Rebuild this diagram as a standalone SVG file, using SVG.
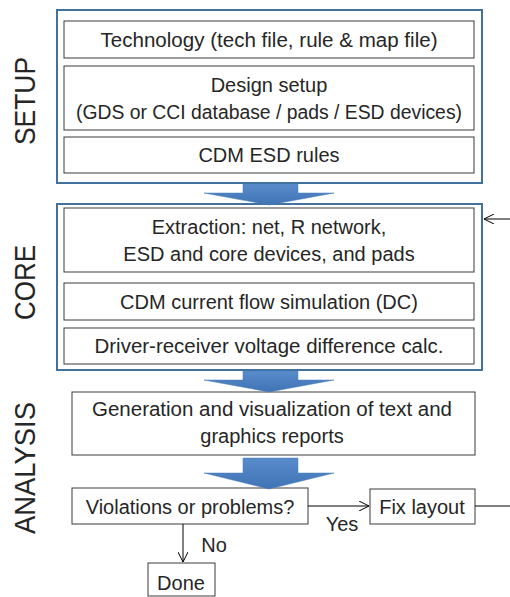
<svg xmlns="http://www.w3.org/2000/svg" width="510" height="597" viewBox="0 0 510 597">
<defs>
<linearGradient id="ag" x1="0" y1="0" x2="0" y2="1">
<stop offset="0" stop-color="#5a8ccc"/>
<stop offset="1" stop-color="#3f73b4"/>
</linearGradient>
<marker id="ah" viewBox="0 0 10 10" refX="10" refY="5" markerWidth="10" markerHeight="10" markerUnits="userSpaceOnUse" orient="auto">
<path d="M0,0 L10,5 L0,10" fill="none" stroke="#000" stroke-width="1"/>
</marker>
<style>
.outer{fill:#fff;stroke:#41719c;stroke-width:2}
.box{fill:#fff;stroke:#3a3a3a;stroke-width:1}
.t{font-family:"Liberation Sans",Arial,sans-serif;font-size:20px;fill:#262626;text-anchor:middle}
.side{font-family:"Liberation Sans",Arial,sans-serif;font-size:29px;fill:#262626;text-anchor:middle}
.big{fill:url(#ag);stroke:#4a7ebb;stroke-width:0.5}
.ln{stroke:#000;stroke-width:1;fill:none}
</style>
</defs>
<rect width="510" height="597" fill="#fff"/>
<text class="side" transform="translate(35,101) rotate(-90)" textLength="88" lengthAdjust="spacingAndGlyphs">SETUP</text>
<text class="side" transform="translate(35,282.5) rotate(-90)" textLength="75" lengthAdjust="spacingAndGlyphs">CORE</text>
<text class="side" transform="translate(35,468) rotate(-90)" textLength="132" lengthAdjust="spacingAndGlyphs">ANALYSIS</text>
<g id="setup">
<rect class="outer" x="57" y="10" width="425" height="173"/>
<g id="tech"><rect class="box" x="64" y="21" width="410" height="37"/><text class="t" x="269" y="47" textLength="337" lengthAdjust="spacingAndGlyphs">Technology (tech file, rule &amp; map file)</text></g>
<g id="design"><rect class="box" x="64" y="66" width="410" height="64"/><text class="t" x="269" y="92">Design setup</text><text class="t" x="269" y="119" textLength="386" lengthAdjust="spacingAndGlyphs">(GDS or CCI database / pads / ESD devices)</text></g>
<g id="cdmrules"><rect class="box" x="64" y="137" width="410" height="36"/><text class="t" x="269" y="162">CDM ESD rules</text></g>
</g>
<g id="core">
<rect class="outer" x="57" y="204" width="425" height="166"/>
<g id="extraction"><rect class="box" x="64" y="208" width="410" height="64"/><text class="t" x="269" y="234">Extraction: net, R network,</text><text class="t" x="269" y="261">ESD and core devices, and pads</text></g>
<g id="sim"><rect class="box" x="64" y="283" width="410" height="37"/><text class="t" x="269" y="309">CDM current flow simulation (DC)</text></g>
<g id="calc"><rect class="box" x="64" y="328" width="410" height="36"/><text class="t" x="269" y="353" textLength="349" lengthAdjust="spacingAndGlyphs">Driver-receiver voltage difference calc.</text></g>
</g>
<g id="reports"><rect class="box" x="72" y="392" width="403" height="63"/><text class="t" x="272" y="416" textLength="360" lengthAdjust="spacingAndGlyphs">Generation and visualization of text and</text><text class="t" x="272" y="443">graphics reports</text></g>
<g id="violations"><rect class="box" x="72" y="488" width="236" height="36"/><text class="t" x="190" y="514">Violations or problems?</text></g>
<g id="fix"><rect class="box" x="370" y="489" width="105" height="35"/><text class="t" x="422" y="514">Fix layout</text></g>
<g id="done"><rect class="box" x="148" y="563" width="67" height="33"/><text class="t" x="181" y="590">Done</text></g>
<g id="connectors">
<path class="big" d="M243,184 H298 V193 H334 L269,205 L204,193 H243 Z"/>
<path class="big" d="M243,371 H298 V380 H334 L269,392 L204,380 H243 Z"/>
<path class="big" d="M243,458 H298 V473 H334 L269,489 L204,473 H243 Z"/>
<line class="ln" x1="308" y1="506" x2="369" y2="506" marker-end="url(#ah)"/>
<line class="ln" x1="183" y1="524" x2="183" y2="562" marker-end="url(#ah)"/>
<line class="ln" x1="475" y1="506" x2="510" y2="506"/>
<line class="ln" x1="510" y1="219" x2="484" y2="219" marker-end="url(#ah)"/>
<text class="t" x="342" y="531">Yes</text>
<text class="t" x="214" y="552">No</text>
</g>
</svg>
